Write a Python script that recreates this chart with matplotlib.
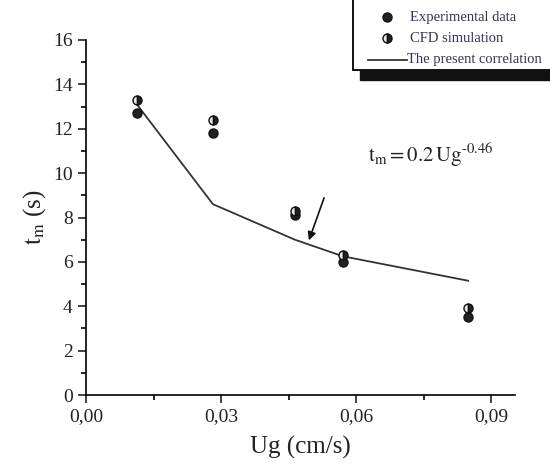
import matplotlib
matplotlib.use("Agg")
import matplotlib.pyplot as plt
from matplotlib.patches import Rectangle
from matplotlib.lines import Line2D
from matplotlib.ticker import MultipleLocator, FuncFormatter

plt.rcParams['font.family'] = ['Liberation Serif', 'DejaVu Serif']
plt.rcParams['mathtext.fontset'] = 'stix'

# Gas velocity (cm/s) and mixing time (s)
ug = [0.0113, 0.0282, 0.0464, 0.0571, 0.0849]
exp_tm = [12.7, 11.8, 8.1, 6.0, 3.5]
cfd_tm = [13.3, 12.4, 8.3, 6.3, 3.9]
corr_tm = [13.1, 8.6, 7.0, 6.25, 5.15]
legend_labels = ['Experimental data', 'CFD simulation', 'The present correlation']

W, H = 550, 470
fig = plt.figure(figsize=(W / 100, H / 100), dpi=100)
ax = fig.add_axes([86 / W, 1 - 395 / H, 429 / W, 355 / H])

exp_style = dict(marker='o', ms=6.5, mfc='#222222', mec='#111111', mew=1.0)
cfd_style = dict(marker='o', ms=6.5, fillstyle='left', mfc='#e8e8e8', mfcalt='#222222',
                 mec='#111111', mew=1.0)

ax.plot(ug, corr_tm, color='#333333', lw=1.3, zorder=2)
ax.plot(ug, exp_tm, ls='none', zorder=3, **exp_style)
ax.plot(ug, cfd_tm, ls='none', zorder=3, **cfd_style)

ax.annotate('', xy=(0.0493, 6.85), xytext=(0.0531, 9.0),
            arrowprops=dict(arrowstyle='-|>', color='#111111', lw=1.2, mutation_scale=12))
ax.text(0.0627, 10.5, r'$\mathrm{t_m = 0.2\,Ug^{\text{-}0.46}}$', fontsize=15, color='#222222')

ax.set_xlim(0, 0.0953)
ax.set_ylim(0, 16)
ax.xaxis.set_major_locator(MultipleLocator(0.03))
ax.xaxis.set_minor_locator(MultipleLocator(0.015))
ax.yaxis.set_major_locator(MultipleLocator(2))
ax.yaxis.set_minor_locator(MultipleLocator(1))
ax.xaxis.set_major_formatter(FuncFormatter(lambda v, p: f"{v:.2f}".replace('.', ',')))
ax.spines['top'].set_visible(False)
ax.spines['right'].set_visible(False)
for s in ('left', 'bottom'):
    ax.spines[s].set_linewidth(1.2)
ax.tick_params(which='major', direction='out', length=6, width=1.2, labelsize=14, colors='#222222')
ax.tick_params(which='minor', direction='out', length=3.5, width=1.2)
ax.set_xlabel('Ug (cm/s)', fontsize=18, color='#222222', labelpad=8)
ax.set_ylabel(r'$\mathrm{t_m}$ (s)', fontsize=18, color='#222222', labelpad=4)


def px(x, y):
    return x / W, 1 - y / H


# legend box running off the top-right corner, with a heavy drop shadow
fig.patches.append(Rectangle(px(360, 80), 200 / W, 10 / H, transform=fig.transFigure,
                             color='#111111', zorder=0))
fig.patches.append(Rectangle(px(353, 70), 210 / W, 80 / H, transform=fig.transFigure,
                             facecolor='white', edgecolor='#111111', lw=1.4, zorder=1))

rows = [17, 38, 60]
for (lx, ly) in [px(387, rows[0])]:
    fig.add_artist(Line2D([lx], [ly], transform=fig.transFigure, **exp_style))
for (lx, ly) in [px(387, rows[1])]:
    fig.add_artist(Line2D([lx], [ly], transform=fig.transFigure, **cfd_style))
x0, y0 = px(368, rows[2])
x1, _ = px(407, rows[2])
fig.add_artist(Line2D([x0, x1], [y0, y0], transform=fig.transFigure, color='#333333', lw=1.3))
for label, ry, lx in zip(legend_labels, rows, [410, 410, 407]):
    tx, ty = px(lx, ry)
    fig.text(tx, ty, label, fontsize=10.5, color='#333355', va='center', ha='left')

fig.savefig('out.png', dpi=100)
